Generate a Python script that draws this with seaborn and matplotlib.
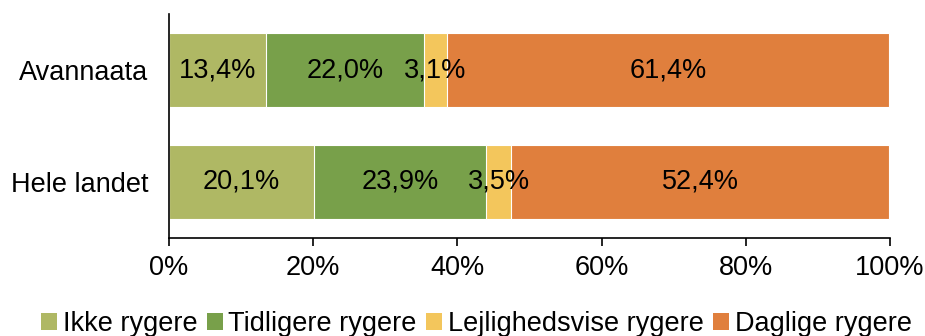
import matplotlib
matplotlib.use("Agg")
import matplotlib.pyplot as plt
import seaborn as sns
import pandas as pd
import numpy as np
from matplotlib.patches import Patch

regions = ["Avannaata", "Hele landet"]
series = ["Ikke rygere", "Tidligere rygere", "Lejlighedsvise rygere", "Daglige rygere"]
ikke = [13.4, 20.1]
tidligere = [22.0, 23.9]
lejlighed = [3.1, 3.5]
daglige = [61.4, 52.4]
colors = ["#AFB864", "#78A04A", "#F3C65C", "#E07F3D"]
xticks = [0, 20, 40, 60, 80, 100]

sns.set_theme(style="white")
plt.rcParams['font.family'] = ['Liberation Sans', 'DejaVu Sans']
plt.rcParams['text.color'] = 'black'
plt.rcParams['xtick.color'] = 'black'
plt.rcParams['ytick.color'] = 'black'

FS = 19.5
values = [ikke, tidligere, lejlighed, daglige]
cum = np.cumsum(np.array(values), axis=0)

fig = plt.figure(figsize=(9.25, 3.36), dpi=100)
ax = fig.add_axes([0.1827, 0.292, 0.962 - 0.1827, 0.958 - 0.292])

for i in range(len(series) - 1, -1, -1):
    df = pd.DataFrame({"region": regions, "val": cum[i]})
    sns.barplot(data=df, y="region", x="val", color=colors[i], orient="h",
                width=0.66, ax=ax, edgecolor="white", linewidth=0.8,
                saturation=1)

for j, r in enumerate(regions):
    start = 0
    for i in range(len(series)):
        v = values[i][j]
        ax.text(start + v / 2, j, f"{v:.1f}%".replace(".", ","),
                ha="center", va="center", fontsize=FS, color="black")
        start += v

ax.set_xlim(0, 100)
ax.set_ylim(1.5, -0.5)
ax.set_xticks(xticks)
ax.set_xticklabels([f"{t}%" for t in xticks], fontsize=FS)
ax.tick_params(axis="y", labelsize=FS, length=0, pad=15, labelcolor="black")
ax.tick_params(axis="x", length=6, width=1.2, color="black", direction="out",
               bottom=True, pad=6, labelcolor="black")
ax.set_xlabel("")
ax.set_ylabel("")
for s in ["top", "right"]:
    ax.spines[s].set_visible(False)
ax.spines["left"].set_color("black")
ax.spines["bottom"].set_color("black")
ax.spines["left"].set_linewidth(1.2)
ax.spines["bottom"].set_linewidth(1.2)

handles = [Patch(facecolor=c, edgecolor="none") for c in colors]
fig.legend(handles, series, loc="lower center", ncol=4, frameon=False,
           fontsize=FS, handlelength=0.6, handleheight=0.6, handletextpad=0.2,
           columnspacing=0.35, bbox_to_anchor=(0.515, -0.075), labelcolor="black")

fig.savefig("out.png", dpi=100)
